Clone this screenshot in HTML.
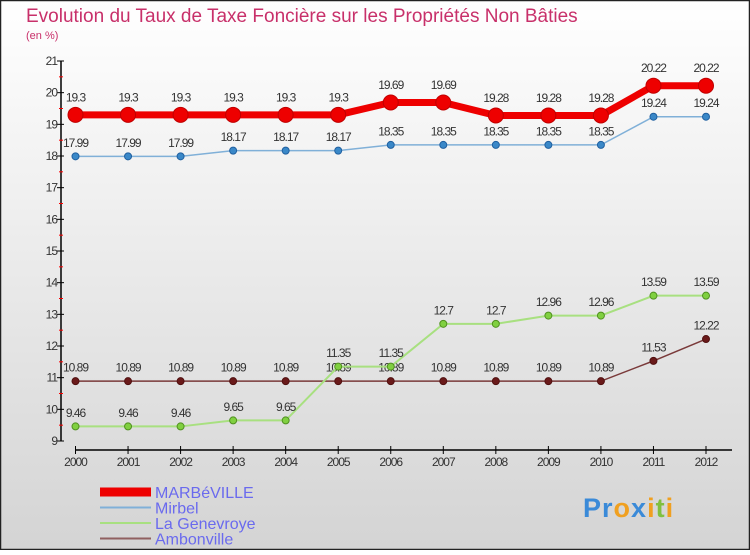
<!DOCTYPE html>
<html><head><meta charset="utf-8"><style>
html,body{margin:0;padding:0}
body{width:750px;height:550px;overflow:hidden;font-family:"Liberation Sans",sans-serif}
</style></head><body>
<svg id="chart" width="750" height="550" xmlns="http://www.w3.org/2000/svg" font-family="Liberation Sans, sans-serif">
<defs><linearGradient id="bg" x1="0" y1="0" x2="0" y2="1"><stop offset="0" stop-color="#ffffff"/><stop offset="1" stop-color="#d4d4d4"/></linearGradient></defs>
<rect x="0.5" y="0.5" width="749" height="549" fill="url(#bg)" stroke="#222" stroke-width="1.5"/>
<text x="26" y="22" font-size="19" fill="#c8306a">Evolution du Taux de Taxe Foncière sur les Propriétés Non Bâties</text>
<text x="26" y="39" font-size="11" fill="#c8306a">(en %)</text>
<text x="583" y="517" font-size="27" font-weight="bold" letter-spacing="1"><tspan fill="#3a8ad8">Pr</tspan><tspan fill="#f0a020">o</tspan><tspan fill="#3a8ad8">x</tspan><tspan fill="#f0a020">i</tspan><tspan fill="#80c040">t</tspan><tspan fill="#f0a020">i</tspan></text>
<g id="axes"></g><g id="series"></g><g id="legend"></g>
</svg>
<script>
const years=[2000,2001,2002,2003,2004,2005,2006,2007,2008,2009,2010,2011,2012];
const marbeville=[19.3,19.3,19.3,19.3,19.3,19.3,19.69,19.69,19.28,19.28,19.28,20.22,20.22];
const mirbel=[17.99,17.99,17.99,18.17,18.17,18.17,18.35,18.35,18.35,18.35,18.35,19.24,19.24];
const genevroye=[9.46,9.46,9.46,9.65,9.65,11.35,11.35,12.7,12.7,12.96,12.96,13.59,13.59];
const ambonville=[10.89,10.89,10.89,10.89,10.89,10.89,10.89,10.89,10.89,10.89,10.89,11.53,12.22];
const yTicks=[9,10,11,12,13,14,15,16,17,18,19,20,21];
const NS="http://www.w3.org/2000/svg";
function X(i){return 75.5+i*(706-75.5)/12;}
function Y(v){return 441-(v-9)*(441-61)/12;}
function mk(tag,parent,attrs){const e=document.createElementNS(NS,tag);for(const k in attrs)e.setAttribute(k,attrs[k]);parent.appendChild(e);return e;}
const ax=document.getElementById('axes');
let l=mk('line',ax,{x1:61,y1:61,x2:61,y2:441,stroke:'#000','stroke-width':1.5});


yTicks.forEach(t=>{
 mk('line',ax,{x1:57,y1:Y(t),x2:64,y2:Y(t),stroke:'#000'});
 if(t<21){mk('line',ax,{x1:59,y1:Y(t+0.5),x2:63,y2:Y(t+0.5),stroke:'#f00'});}
 const tx=mk('text',ax,{x:57,y:Y(t)+4,'text-anchor':'end','font-size':12,fill:'#333','letter-spacing':'-1'});
 tx.textContent=t;
 
 
});
l=mk('line',ax,{x1:75.5,y1:450,x2:732,y2:450,stroke:'#000','stroke-width':1.5});


years.forEach((y,i)=>{
 mk('line',ax,{x1:X(i),y1:446,x2:X(i),y2:454,stroke:'#000'});
 const tx=mk('text',ax,{x:X(i),y:466,'text-anchor':'middle','font-size':12,fill:'#333','letter-spacing':'-1'});
 tx.textContent=y;
 
 
});
const sg=document.getElementById('series');
function series(vals,name,color,lw,r,dot,dotStroke){
 const g=mk('g',sg,{});
 
 
 mk('polyline',g,{points:vals.map((v,i)=>X(i)+','+Y(v)).join(' '),fill:'none',stroke:color,'stroke-width':lw});
 vals.forEach((v,i)=>{
  const c=mk('circle',g,{cx:X(i),cy:Y(v),r:r,fill:dot,stroke:dotStroke,'stroke-width':1});
  
  
  const t=mk('text',g,{x:X(i),y:Y(v)-(r+6),'text-anchor':'middle','font-size':12,fill:'#333','letter-spacing':'-1'});
  t.textContent=v;
  
  
 });
}
series(ambonville,'ambonville','#7a3a3a',1.5,3.5,'#6a1a1a','#501010');
series(genevroye,'la-genevroye','#a8e080',2,3.5,'#80d040','#509020');
series(mirbel,'mirbel','#80b0d8',1.5,3.5,'#3a88c8','#2060a0');
series(marbeville,'marbeville','#ee0000',7,7.5,'#ee0000','#c00000');
const lg=document.getElementById('legend');
const items=[['MARBéVILLE','#ee0000',9],['Mirbel','#80b0d8',2],['La Genevroye','#a8e080',2],['Ambonville','#906060',2]];
items.forEach((it,k)=>{
 const y=492+k*15.5;
 const g=mk('g',lg,{});
 
 
 mk('line',g,{x1:100,y1:y,x2:151,y2:y,stroke:it[1],'stroke-width':it[2]});
 const t=mk('text',g,{x:155,y:y+6,'font-size':16,fill:'#6a6aee'});
 t.textContent=it[0];
});
</script>
</body></html>
